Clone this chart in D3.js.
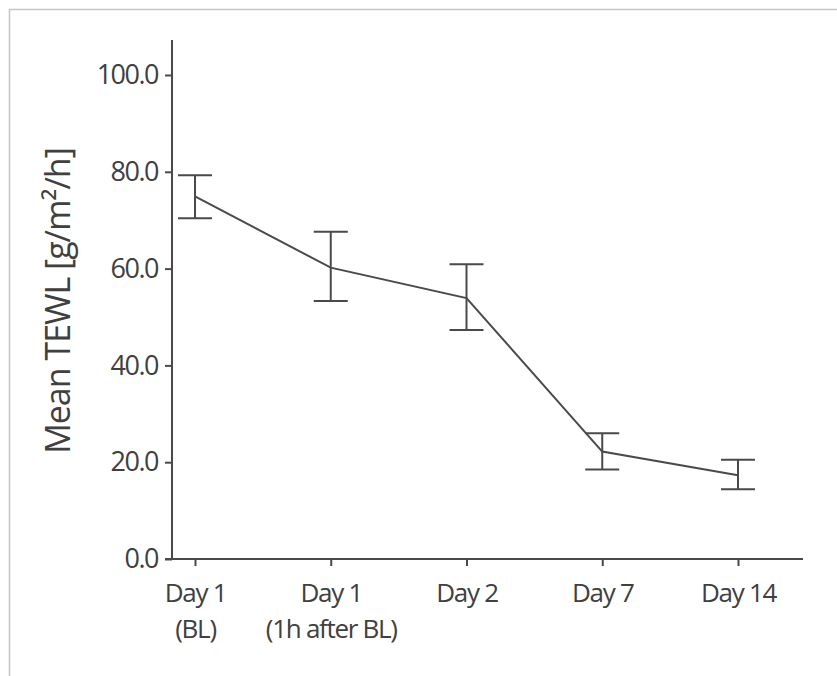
<!DOCTYPE html>
<html>
  <head>
    <meta charset="utf-8">
    <title>Mean TEWL</title>
    <script src="https://d3js.org/d3.v7.min.js"></script>
    <style>
      body { margin: 0; background: #fff; }
      svg { display: block; }
      text { font-family: "Open Sans", sans-serif; fill: #404040; }
      .tick text { font-family: "Open Sans", sans-serif; font-size: 27px; letter-spacing: -1.5px; }
      .tick text.xlab { font-size: 26px; letter-spacing: -1.3px; }
      .tick line { stroke: #4a4a4a; stroke-width: 2; }
      .frame { stroke: #c4c4c4; stroke-width: 1.5; }
      .axisLine { stroke: #4a4a4a; stroke-width: 2; }
    </style>
  </head>
  <body>
    <svg id="chart" width="837" height="676"></svg>
    <script>
      // data
      var days = ["Day 1|(BL)", "Day 1|(1h after BL)", "Day 2", "Day 7", "Day 14"];
      var means = [74.9, 60.2, 53.9, 22.2, 17.3];
      var upper = [79.3, 67.6, 60.9, 26.0, 20.5];
      var lower = [70.4, 53.3, 47.3, 18.5, 14.4];
      var yTicks = [0, 20, 40, 60, 80, 100];

      var margin = { left: 172, top: 40, bottom: 559, right: 803 };
      var ink = "#4a4a4a";
      var svg = d3.select("#chart");

      // light frame round the figure (top and left only)
      svg.append("line").classed("frame", true)
        .attr("x1", 9).attr("x2", 837).attr("y1", 9.5).attr("y2", 9.5);
      svg.append("line").classed("frame", true)
        .attr("x1", 9.5).attr("x2", 9.5).attr("y1", 9).attr("y2", 676);

      var x = d3.scalePoint()
        .domain(days)
        .range([195, 738]);
      var y = d3.scaleLinear()
        .domain([0, 100])
        .range([559, 75]);

      // y axis
      var yAxis = d3.axisLeft(y)
        .tickValues(yTicks)
        .tickFormat(d3.format(".1f"))
        .tickSize(7)
        .tickPadding(7);
      var yGroup = svg.append("g")
        .attr("transform", "translate(" + margin.left + ",0)")
        .call(yAxis);
      yGroup.select(".domain").remove();
      svg.append("line").classed("axisLine", true)
        .attr("x1", margin.left).attr("x2", margin.left)
        .attr("y1", margin.top).attr("y2", y(0));

      // x axis
      var xAxis = d3.axisBottom(x)
        .tickSize(7)
        .tickFormat("");
      var xGroup = svg.append("g")
        .attr("transform", "translate(0," + y(0) + ")")
        .call(xAxis);
      xGroup.select(".domain").remove();
      svg.append("line").classed("axisLine", true)
        .attr("x1", margin.left - 7).attr("x2", margin.right)
        .attr("y1", y(0)).attr("y2", y(0));
      // one text per line so the two lines of a label stay apart
      xGroup.selectAll(".tick")
        .selectAll("text.xlab")
          .data(function(d) { return d.split("|"); })
        .enter().append("text")
          .classed("xlab", true)
          .attr("text-anchor", "middle")
          .attr("x", 0)
          .attr("y", function(d, i) { return 43 + i * 36; })
          .text(function(d) { return d; });

      // y label
      svg.append("text")
        .attr("transform", "translate(70," + 301 + ") rotate(-90)")
        .attr("text-anchor", "middle")
        .style("font-size", "34px")
        .style("letter-spacing", "-1px")
        .text("Mean TEWL [g/m²/h]");

      // series
      var points = days.map(function(d, i) {
        return { day: d, mean: means[i], hi: upper[i], lo: lower[i] };
      });
      var line = d3.line()
        .x(function(d) { return x(d.day); })
        .y(function(d) { return y(d.mean); });
      svg.append("path")
        .datum(points)
        .attr("d", line)
        .attr("fill", "none")
        .attr("stroke", ink)
        .attr("stroke-width", 2);

      var cap = 17;
      var bars = svg.selectAll(".err")
        .data(points)
        .enter().append("g")
          .classed("err", true)
          .attr("stroke", ink)
          .attr("stroke-width", 2);
      bars.append("line")
        .attr("x1", function(d) { return x(d.day); })
        .attr("x2", function(d) { return x(d.day); })
        .attr("y1", function(d) { return y(d.hi); })
        .attr("y2", function(d) { return y(d.lo); });
      bars.append("line")
        .attr("x1", function(d) { return x(d.day) - cap; })
        .attr("x2", function(d) { return x(d.day) + cap; })
        .attr("y1", function(d) { return y(d.hi); })
        .attr("y2", function(d) { return y(d.hi); });
      bars.append("line")
        .attr("x1", function(d) { return x(d.day) - cap; })
        .attr("x2", function(d) { return x(d.day) + cap; })
        .attr("y1", function(d) { return y(d.lo); })
        .attr("y2", function(d) { return y(d.lo); });
    </script>
  </body>
</html>
